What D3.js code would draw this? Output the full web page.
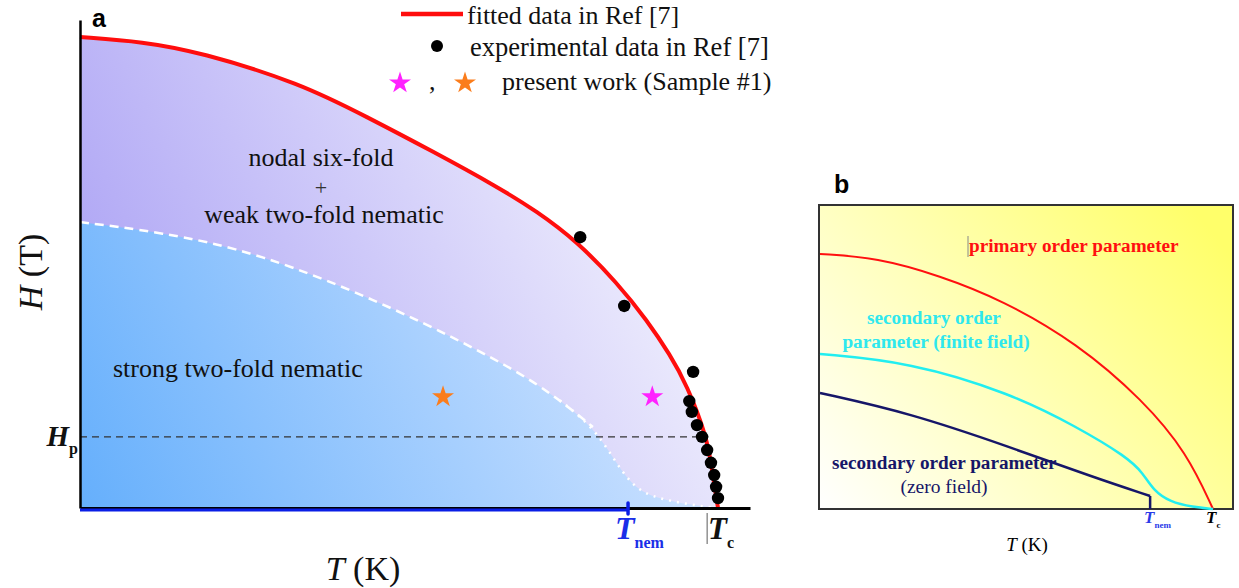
<!DOCTYPE html>
<html>
<head>
<meta charset="utf-8">
<script src="https://cdn.jsdelivr.net/npm/d3@7"></script>
<style>
  body { margin: 0; background: #fff; }
  svg { display: block; }
</style>
</head>
<body>
<svg></svg>
<script>
// Panel a: H-T phase diagram (T in units of Tc, H in units of Hc2(0))
let fitT = [0, 0.099, 0.188, 0.345, 0.45, 0.553, 0.654, 0.716, 0.779, 0.842, 0.889, 0.925, 0.951, 0.983, 0.991, 1.0];
let fitH = [1.0, 0.99, 0.968, 0.902, 0.83, 0.757, 0.682, 0.63, 0.566, 0.478, 0.398, 0.325, 0.262, 0.15, 0.078, 0];

let expT = [0.784, 0.853, 0.961, 0.955, 0.959, 0.967, 0.975, 0.983, 0.989, 0.994, 0.997, 1.0];
let expH = [0.575, 0.429, 0.289, 0.227, 0.204, 0.176, 0.151, 0.123, 0.096, 0.07, 0.045, 0.021];

let boundT = [0, 0.125, 0.277, 0.491, 0.685, 0.752, 0.804, 0.835, 0.862, 0.893, 0.961, 0.998];
let boundH = [0.607, 0.586, 0.544, 0.427, 0.293, 0.229, 0.172, 0.108, 0.053, 0.023, 0.006, 0];

let starT = [0.569, 0.897];
let starH = [0.238, 0.238];
let starColors = ["#fb7d1c", "#ff22ff"];

let Hp = 0.151;
let Tnem = 0.859;

// Panel b: order parameters vs T
let bRedT = [0, 0.145, 0.305, 0.463, 0.654, 0.822, 0.934, 1.0];
let bRedH = [1.0, 0.986, 0.915, 0.82, 0.651, 0.427, 0.22, 0];
let bCyanT = [0, 0.229, 0.483, 0.654, 0.781, 0.822, 0.847, 0.891, 0.949, 1.0];
let bCyanH = [0.608, 0.576, 0.455, 0.322, 0.204, 0.141, 0.075, 0.027, 0.008, 0];
let bNavyT = [0, 0.229, 0.483, 0.695, 0.84];
let bNavyH = [0.455, 0.376, 0.243, 0.125, 0.051];
let bTnem = 0.84;

let width = 1239;
let height = 588;
let serif = "Liberation Serif, Tinos, Noto Serif, DejaVu Serif, FreeSerif, Nimbus Roman, Times New Roman, Times, serif";
let sans = "Liberation Sans, Arial, sans-serif";

let svg = d3.select("svg").attr("width", width).attr("height", height);
let defs = svg.append("defs");

let zip = (xs, ys) => xs.map((x, i) => [x, ys[i]]);

// scales
let xA = d3.scaleLinear().domain([0, 1]).range([80, 718]);
let yA = d3.scaleLinear().domain([0, 1]).range([508, 37]);
let xB = d3.scaleLinear().domain([0, 1]).range([820, 1213]);
let yB = d3.scaleLinear().domain([0, 1]).range([509, 254]);

let addGradient = (id, x1, y1, x2, y2, c1, c2) => {
  let g = defs.append("linearGradient").attr("id", id)
    .attr("gradientUnits", "userSpaceOnUse")
    .attr("x1", x1).attr("y1", y1).attr("x2", x2).attr("y2", y2);
  g.append("stop").attr("offset", 0).attr("stop-color", c1);
  g.append("stop").attr("offset", 1).attr("stop-color", c2);
};
addGradient("purpleGrad", 80, 280, 560, 40, "#afa6f5", "#eeedfd");
addGradient("blueGrad", 80, 508, 580, 260, "#65affc", "#c9e0ff");
addGradient("yellowGrad", 820, 509, 1190, 205, "#ffffff", "#ffff6a");

let drawPanelA = () => {
  let area = d3.area().curve(d3.curveBasis)
    .x((d) => xA(d[0])).y0(yA(0)).y1((d) => yA(d[1]));
  let line = d3.line().curve(d3.curveBasis)
    .x((d) => xA(d[0])).y((d) => yA(d[1]));

  svg.append("path").datum(zip(fitT, fitH)).attr("d", area).attr("fill", "url(#purpleGrad)");
  svg.append("path").datum(zip(boundT, boundH)).attr("d", area).attr("fill", "url(#blueGrad)");

  // boundary: dashed then dotted
  let bound = zip(boundT, boundH);
  svg.append("path").datum(bound.slice(0, 7)).attr("d", line)
    .attr("fill", "none").attr("stroke", "#fff").attr("stroke-width", 2.5)
    .attr("stroke-dasharray", "9,6");
  svg.append("path").datum(bound.slice(5)).attr("d", line)
    .attr("fill", "none").attr("stroke", "#fff").attr("stroke-width", 2.5)
    .attr("stroke-dasharray", "2,6");

  // Hp line
  svg.append("line").attr("x1", xA(0)).attr("x2", xA(0.985))
    .attr("y1", yA(Hp)).attr("y2", yA(Hp))
    .attr("stroke", "#333").attr("stroke-width", 1.3).attr("stroke-dasharray", "7,5");

  // fitted curve
  svg.append("path").datum(zip(fitT, fitH)).attr("d", line)
    .attr("fill", "none").attr("stroke", "#ff0d0d").attr("stroke-width", 4);

  // experimental points
  svg.selectAll("circle.exp").data(zip(expT, expH)).enter().append("circle")
    .attr("class", "exp").attr("r", 6.2)
    .attr("cx", (d) => xA(d[0])).attr("cy", (d) => yA(d[1])).attr("fill", "#000");

  // stars
  svg.selectAll("path.star").data(zip(starT, starH)).enter().append("path")
    .attr("class", "star")
    .attr("d", d3.symbol(d3.symbolStar).size(150))
    .attr("transform", (d) => "translate(" + xA(d[0]) + "," + (yA(d[1]) + 1) + ")")
    .attr("fill", (d, i) => starColors[i]);

  // axes
  let xAxis = d3.axisBottom(d3.scaleLinear().domain([0, 1.05]).range([80, 750])).tickValues([]).tickSizeOuter(0);
  let yAxis = d3.axisLeft(d3.scaleLinear().domain([0, 1.036]).range([508, 20])).tickValues([]).tickSizeOuter(0);
  svg.append("g").attr("transform", "translate(0,508)").call(xAxis)
    .select(".domain").attr("stroke", "#000").attr("stroke-width", 3);
  svg.append("g").attr("transform", "translate(80,0)").call(yAxis)
    .select(".domain").attr("stroke", "#000").attr("stroke-width", 2.5);

  // blue nematic segment along T axis
  svg.append("line").attr("x1", xA(0)).attr("x2", xA(Tnem)).attr("y1", 510).attr("y2", 510)
    .attr("stroke", "#0a1ee6").attr("stroke-width", 3);
  svg.append("line").attr("x1", xA(Tnem)).attr("x2", xA(Tnem)).attr("y1", 503).attr("y2", 514)
    .attr("stroke", "#0a1ee6").attr("stroke-width", 3.5).attr("stroke-linecap", "round");

  // Tc marker
  svg.append("line").attr("x1", xA(0.983)).attr("x2", xA(0.983)).attr("y1", 513).attr("y2", 544)
    .attr("stroke", "#777").attr("stroke-width", 1.2);

  let t = svg.append("g").attr("fill", "#111").style("font-family", serif);
  // panel letter
  svg.append("text").attr("x", 92).attr("y", 27).text("a")
    .style("font-family", sans).attr("font-weight", "bold").attr("font-size", 25);

  // legend
  t.append("line").attr("x1", 401).attr("x2", 463).attr("y1", 14).attr("y2", 14)
    .attr("stroke", "#ff0d0d").attr("stroke-width", 4.5);
  t.append("text").attr("x", 467).attr("y", 24).attr("font-size", 26).text("fitted data in Ref [7]");
  t.append("circle").attr("cx", 437).attr("cy", 46).attr("r", 6).attr("fill", "#000");
  t.append("text").attr("x", 470).attr("y", 56).attr("font-size", 26.5).text("experimental data in Ref [7]");
  t.append("path").attr("d", d3.symbol(d3.symbolStar).size(150))
    .attr("transform", "translate(400,83)").attr("fill", starColors[1]);
  t.append("text").attr("x", 429).attr("y", 90).attr("font-size", 26).text(",");
  t.append("path").attr("d", d3.symbol(d3.symbolStar).size(150))
    .attr("transform", "translate(465,83)").attr("fill", starColors[0]);
  t.append("text").attr("x", 502).attr("y", 90).attr("font-size", 26).text("present work (Sample #1)");

  // region labels
  t.append("text").attr("x", 321).attr("y", 166).attr("text-anchor", "middle").attr("font-size", 26).text("nodal six-fold");
  t.append("text").attr("x", 321).attr("y", 195).attr("text-anchor", "middle").attr("font-size", 22).attr("fill", "#333").text("+");
  t.append("text").attr("x", 324).attr("y", 223).attr("text-anchor", "middle").attr("font-size", 26).text("weak two-fold nematic");
  t.append("text").attr("x", 113).attr("y", 377).attr("font-size", 26).text("strong two-fold nematic");

  // axis labels
  let hl = t.append("text").attr("transform", "translate(42,272) rotate(-90)")
    .attr("text-anchor", "middle").attr("font-size", 34);
  hl.append("tspan").attr("font-style", "italic").text("H");
  hl.append("tspan").text(" (T)");
  let tl = t.append("text").attr("x", 363).attr("y", 580).attr("text-anchor", "middle").attr("font-size", 34);
  tl.append("tspan").attr("font-style", "italic").text("T");
  tl.append("tspan").text(" (K)");

  // Hp label
  let hp = t.append("text").attr("x", 78).attr("y", 446).attr("text-anchor", "end")
    .attr("font-weight", "bold");
  hp.append("tspan").attr("font-style", "italic").attr("font-size", 29).text("H");
  hp.append("tspan").attr("font-size", 16).attr("dy", 8).text("p");

  // Tnem label
  let tn = t.append("text").attr("x", 615).attr("y", 539).attr("fill", "#1a2ee8").attr("font-weight", "bold");
  tn.append("tspan").attr("font-style", "italic").attr("font-size", 32).text("T");
  tn.append("tspan").attr("font-size", 16).attr("dy", 9).text("nem");

  // Tc label
  let tc = t.append("text").attr("x", 708).attr("y", 539).attr("font-weight", "bold");
  tc.append("tspan").attr("font-style", "italic").attr("font-size", 31).text("T");
  tc.append("tspan").attr("font-size", 16).attr("dy", 9).text("c");
};

let drawPanelB = () => {
  svg.append("text").attr("x", 834).attr("y", 193).text("b")
    .style("font-family", sans).attr("font-weight", "bold").attr("font-size", 25);

  svg.append("rect").attr("x", 819).attr("y", 205).attr("width", 414).attr("height", 304)
    .attr("fill", "url(#yellowGrad)").attr("stroke", "#333").attr("stroke-width", 2);

  let line = d3.line().curve(d3.curveBasis)
    .x((d) => xB(d[0])).y((d) => yB(d[1]));

  svg.append("path").datum(zip(bRedT, bRedH)).attr("d", line)
    .attr("fill", "none").attr("stroke", "#ff1010").attr("stroke-width", 2);
  svg.append("path").datum(zip(bCyanT, bCyanH)).attr("d", line)
    .attr("fill", "none").attr("stroke", "#22eef0").attr("stroke-width", 2.5);
  svg.append("path").datum(zip(bNavyT, bNavyH)).attr("d", line)
    .attr("fill", "none").attr("stroke", "#161668").attr("stroke-width", 2.5);
  svg.append("line").attr("x1", xB(bTnem)).attr("x2", xB(bTnem))
    .attr("y1", yB(bNavyH[bNavyH.length - 1])).attr("y2", yB(0))
    .attr("stroke", "#161668").attr("stroke-width", 2.5);

  let t = svg.append("g").style("font-family", serif).attr("font-weight", "bold");
  t.append("line").attr("x1", 968).attr("x2", 968).attr("y1", 236).attr("y2", 257)
    .attr("stroke", "#888").attr("stroke-width", 1);
  t.append("text").attr("x", 969).attr("y", 252).attr("font-size", 19.2).attr("fill", "#ff1010").text("primary order parameter");
  t.append("text").attr("x", 934).attr("y", 324).attr("text-anchor", "middle").attr("font-size", 19.2).attr("fill", "#2ee8ee").text("secondary order");
  t.append("text").attr("x", 936).attr("y", 348).attr("text-anchor", "middle").attr("font-size", 19.2).attr("fill", "#2ee8ee").text("parameter (finite field)");
  t.append("text").attr("x", 832).attr("y", 469).attr("font-size", 19.2).attr("fill", "#161668").text("secondary order parameter");
  t.append("text").attr("x", 944).attr("y", 493).attr("text-anchor", "middle").attr("font-size", 19.5)
    .attr("font-weight", "normal").attr("fill", "#161668").text("(zero field)");

  let tn = t.append("text").attr("x", 1144).attr("y", 523).attr("fill", "#2a3ae8");
  tn.append("tspan").attr("font-style", "italic").attr("font-size", 17).text("T");
  tn.append("tspan").attr("font-size", 9).attr("dy", 5).text("nem");
  let tc = t.append("text").attr("x", 1206).attr("y", 523).attr("fill", "#000");
  tc.append("tspan").attr("font-style", "italic").attr("font-size", 17).text("T");
  tc.append("tspan").attr("font-size", 9).attr("dy", 5).text("c");

  let tl = t.append("text").attr("x", 1027).attr("y", 551).attr("text-anchor", "middle")
    .attr("font-size", 19).attr("font-weight", "normal");
  tl.append("tspan").attr("font-style", "italic").text("T");
  tl.append("tspan").text(" (K)");
};

drawPanelA();
drawPanelB();
</script>
</body>
</html>
